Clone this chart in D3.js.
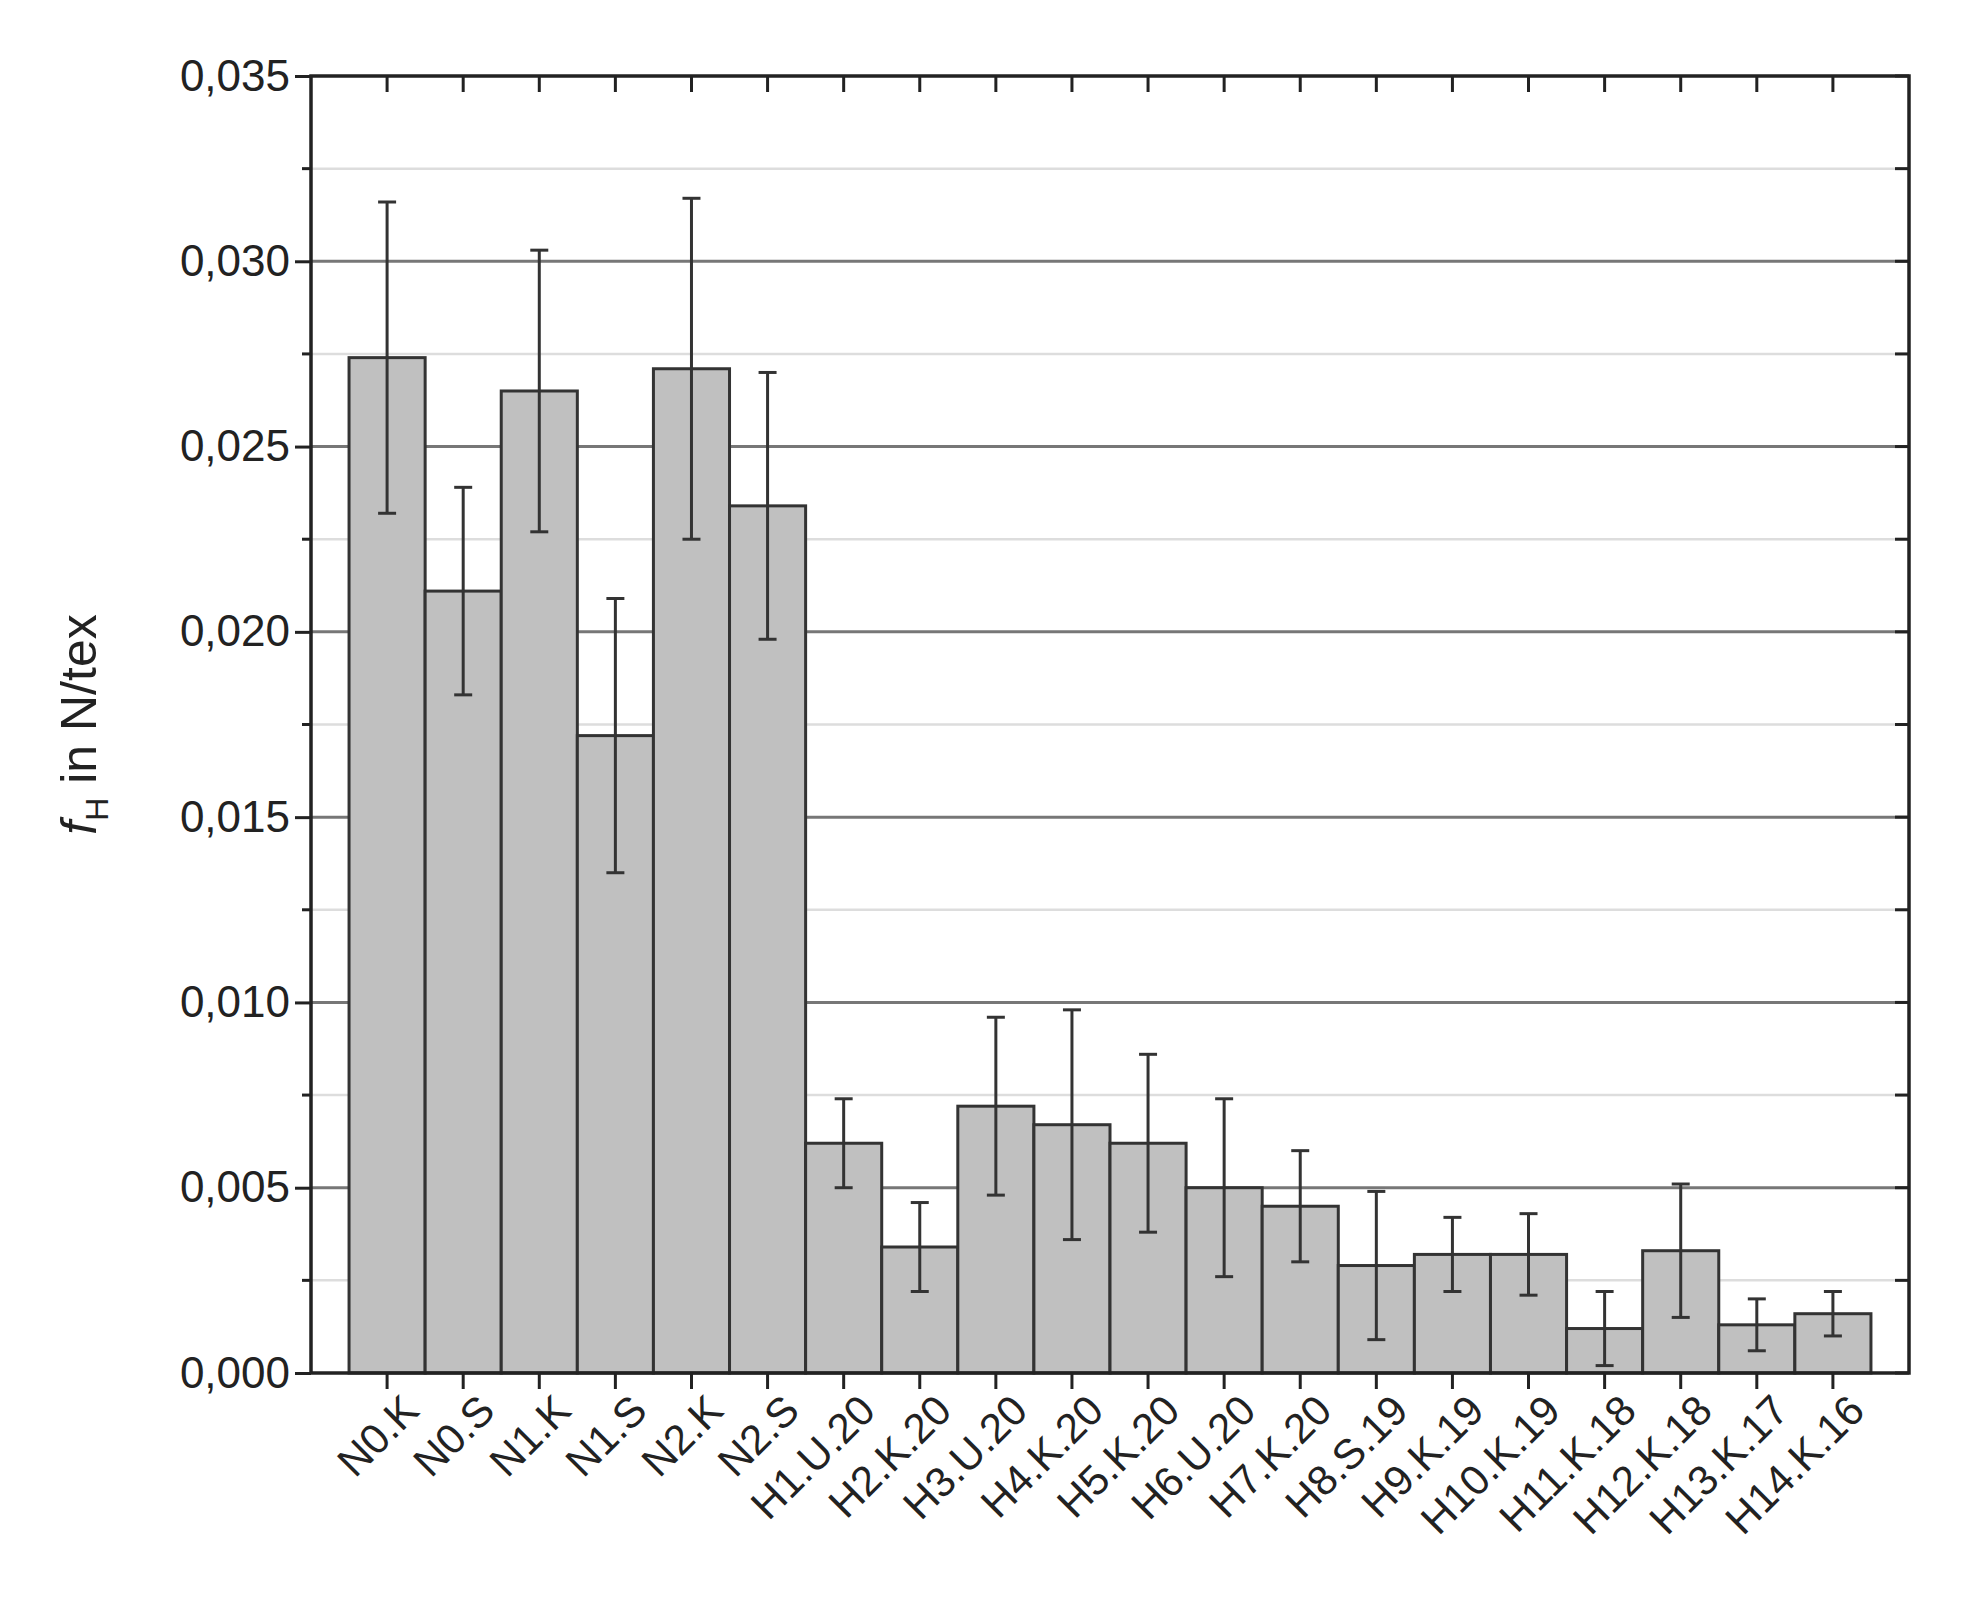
<!DOCTYPE html>
<html><head><meta charset="utf-8">
<script src="https://cdn.jsdelivr.net/npm/d3@7"></script>
<style>body{margin:0;background:#fff}text{font-family:"Liberation Sans",Arial,sans-serif}</style>
</head><body><svg id="c" width="1972" height="1615"></svg>
<script>
// Werte
const samples = ['N0.K','N0.S','N1.K','N1.S','N2.K','N2.S','H1.U.20','H2.K.20','H3.U.20','H4.K.20',
  'H5.K.20','H6.U.20','H7.K.20','H8.S.19','H9.K.19','H10.K.19','H11.K.18','H12.K.18','H13.K.17','H14.K.16'];
const means = [0.0274,0.0211,0.0265,0.0172,0.0271,0.0234,0.0062,0.0034,0.0072,0.0067,
  0.0062,0.0050,0.0045,0.0029,0.0032,0.0032,0.0012,0.0033,0.0013,0.0016];
const errs = [0.0042,0.0028,0.0038,0.0037,0.0046,0.0036,0.0012,0.0012,0.0024,0.0031,
  0.0024,0.0024,0.0015,0.0020,0.0010,0.0011,0.0010,0.0018,0.0007,0.0006];
const majorTicks = [0,0.005,0.010,0.015,0.020,0.025,0.030,0.035];
const minorTicks = [0.0025,0.0075,0.0125,0.0175,0.0225,0.0275,0.0325];

const svg = d3.select('#c');
const L = 311, R = 1909, T = 76, B = 1373;

const x = d3.scaleBand().domain(samples).range([L, R]).paddingInner(0).paddingOuter(0.5);
const y = d3.scaleLinear().domain([0, 0.035]).range([B, T]);

// Gitterlinien
svg.append('g').selectAll('line').data(majorTicks.slice(1, -1)).enter().append('line')
  .attr('x1', L).attr('x2', R).attr('y1', d => y(d)).attr('y2', d => y(d))
  .attr('stroke', '#777').attr('stroke-width', 3);
svg.append('g').selectAll('line').data(minorTicks).enter().append('line')
  .attr('x1', L).attr('x2', R).attr('y1', d => y(d)).attr('y2', d => y(d))
  .attr('stroke', '#ddd').attr('stroke-width', 2.5);

// Balken
svg.append('g').selectAll('rect').data(samples).enter().append('rect')
  .attr('x', d => x(d)).attr('width', x.bandwidth())
  .attr('y', (d, i) => y(means[i])).attr('height', (d, i) => B - y(means[i]))
  .attr('fill', '#c0c0c0').attr('stroke', '#333').attr('stroke-width', 3);

// Fehlerbalken
const eb = svg.append('g').attr('stroke', '#333').attr('stroke-width', 3);
samples.forEach(function (d, i) {
  const cx = x(d) + x.bandwidth() / 2;
  const lo = y(means[i] - errs[i]), hi = y(means[i] + errs[i]);
  eb.append('line').attr('x1', cx).attr('x2', cx).attr('y1', lo).attr('y2', hi);
  [lo, hi].forEach(function (v) {
    eb.append('line').attr('x1', cx - 9).attr('x2', cx + 9).attr('y1', v).attr('y2', v);
  });
});

// Achsen
const yAxis = d3.axisLeft(y).tickValues(majorTicks).tickSize(16).tickFormat(d => d3.format('.3f')(d).replace('.', ','));
const gy = svg.append('g').attr('transform', `translate(${L},0)`).call(yAxis);
gy.selectAll('text').attr('font-size', 44).attr('fill', '#222').attr('dx', -2);
gy.selectAll('line').attr('stroke', '#222').attr('stroke-width', 3);
gy.select('.domain').remove();
svg.append('g').selectAll('line').data(minorTicks).enter().append('line')
  .attr('x1', L - 9).attr('x2', L).attr('y1', d => y(d)).attr('y2', d => y(d)).attr('stroke', '#222').attr('stroke-width', 3);
// rechte Achse, Ticks nach innen
svg.append('g').selectAll('line').data(majorTicks.concat(minorTicks)).enter().append('line')
  .attr('x1', R - 14).attr('x2', R).attr('y1', d => y(d)).attr('y2', d => y(d)).attr('stroke', '#222').attr('stroke-width', 3);

const xAxis = d3.axisBottom(x).tickSize(16).tickSizeOuter(0);
const gx = svg.append('g').attr('transform', `translate(0,${B})`).call(xAxis);
gx.select('.domain').remove();
gx.selectAll('line').attr('stroke', '#222').attr('stroke-width', 3);
gx.selectAll('text').attr('font-size', 42).attr('fill', '#222')
  .attr('text-anchor', 'end').attr('transform', 'translate(24,30) rotate(-45)').attr('dy', 0).attr('y', 14).attr('x', 0);
// obere Ticks nach innen
svg.append('g').selectAll('line').data(samples).enter().append('line')
  .attr('x1', d => x(d) + x.bandwidth() / 2).attr('x2', d => x(d) + x.bandwidth() / 2)
  .attr('y1', T).attr('y2', T + 16).attr('stroke', '#222').attr('stroke-width', 3);

svg.append('rect').attr('x', L).attr('y', T).attr('width', R - L).attr('height', B - T)
  .attr('fill', 'none').attr('stroke', '#222').attr('stroke-width', 3.5);

// Achsentitel
const title = svg.append('text').attr('transform', `translate(96,${(T + B) / 2}) rotate(-90)`)
  .attr('text-anchor', 'middle').attr('font-size', 50).attr('fill', '#222');
title.append('tspan').attr('font-style', 'italic').text('f');
title.append('tspan').attr('font-size', 32).attr('dy', 12).text('H');
title.append('tspan').attr('dy', -12).text(' in N/tex');
</script></body></html>
